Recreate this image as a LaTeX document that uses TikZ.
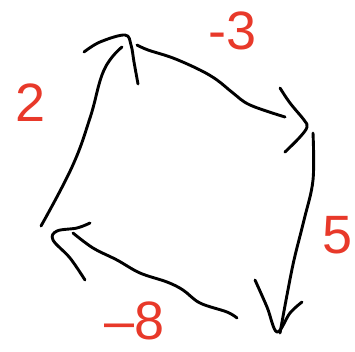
\documentclass[tikz,border=0pt]{standalone}
\usepackage{fontspec}
\setmainfont{Liberation Sans}
\definecolor{penred}{HTML}{E8392A}
\begin{document}
\begin{tikzpicture}[x=1pt,y=-1pt,
  stroke/.style={line width=2.9pt,line cap=round,line join=round,black},
  lbl/.style={text=penred,font=\fontsize{54}{54}\selectfont,inner sep=0pt}]
\useasboundingbox (0,0) rectangle (355,351);
% left edge, upward arrow
\draw[stroke] plot[smooth,tension=0.7] coordinates {(41,226) (72,167) (90,118) (104,70) (122,47)};
\draw[stroke] plot[smooth,tension=0.6] coordinates {(84,52) (100,42) (125,35) (131,45) (134,62) (138,84)};
% top edge, arrow to right
\draw[stroke] plot[smooth,tension=0.6] coordinates {(137,45) (148,50) (173,58) (200,70) (217,80) (233,93) (250,105) (285,117)};
\draw[stroke] plot[smooth,tension=0.6] coordinates {(280,88) (290,103) (304,120) (307,127) (300,137) (285,152)};
% right edge, downward arrow
\draw[stroke] plot[smooth,tension=0.6] coordinates {(313,133) (313,180) (304,220) (294,260) (287,295) (280,333)};
\draw[stroke] plot[smooth,tension=0.6] coordinates {(255,280) (267,307) (277,332) (290,313) (302,302)};
% bottom edge, arrow to left
\draw[stroke] plot[smooth,tension=0.6] coordinates {(237,318) (227,312) (200,303) (183,290) (167,282) (140,273) (117,260) (93,248) (73,233)};
\draw[stroke] plot[smooth,tension=0.6] coordinates {(90,223) (77,228) (57,231) (53,240) (70,258) (85,280)};
% labels
\node[lbl] (ltop) at (233,31) {-3};
\node[lbl] (lleft) at (31,103) {2};
\node[lbl] (lright) at (338,235) {5};
\node[lbl] (lbottom) at (135,321) {–8};
\end{tikzpicture}
\end{document}
